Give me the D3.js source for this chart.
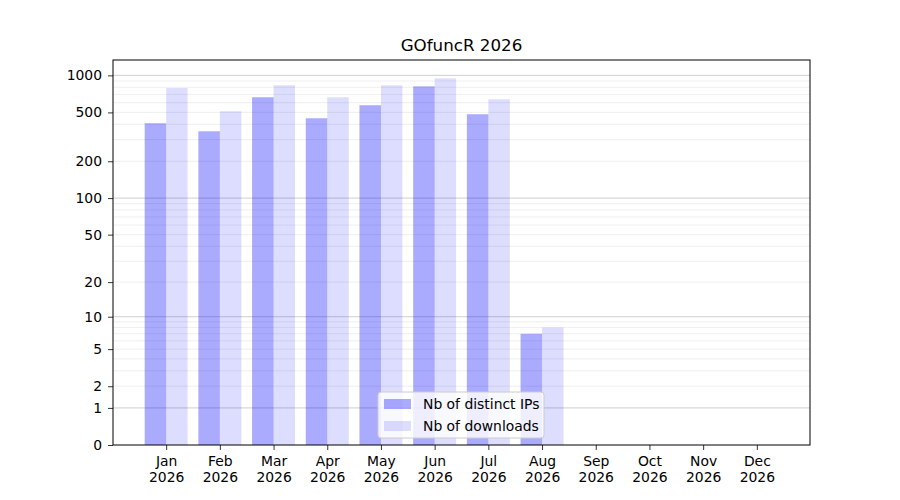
<!DOCTYPE html>
<meta charset="UTF-8">
<html>
	<head>
		<script src="https://d3js.org/d3.v7.min.js"></script>
		<style>
			body { margin: 0; background: white; }
			.Chart text
			{
				font-family: "DejaVu Sans", sans-serif;
				fill: black;
			}
		</style>
	</head>
	<body>
		<svg class="Chart"></svg>
		<script type="text/javascript">
			var Months = ["Jan", "Feb", "Mar", "Apr", "May", "Jun", "Jul", "Aug", "Sep", "Oct", "Nov", "Dec"];
			var Years = ["2026", "2026", "2026", "2026", "2026", "2026", "2026", "2026", "2026", "2026", "2026", "2026"];
			var DistinctIPs = [408, 351, 664, 448, 572, 814, 483, 7, 0, 0, 0, 0];
			var Downloads = [789, 511, 830, 664, 830, 946, 639, 8, 0, 0, 0, 0];
			var YTicks = [0, 1, 2, 5, 10, 20, 50, 100, 200, 500, 1000];
			var MajorGrid = [1, 10, 100, 1000];
			var MinorGrid = [2, 3, 4, 5, 6, 7, 8, 9, 20, 30, 40, 50, 60, 70, 80, 90, 200, 300, 400, 500, 600, 700, 800, 900];
			var SeriesNames = ["Nb of distinct IPs", "Nb of downloads"];

			var Width = 900;
			var Height = 500;
			var Plot = {"Left":113, "Right":810, "Top":60, "Bottom":445};
			var BarW = 0.4;

			var Svg = d3.select(".Chart").attr("width", Width).attr("height", Height);

			// x in month index units, 5% margin like matplotlib
			var Lo = -BarW, Hi = (Months.length - 1) + BarW;
			var Pad = (Hi - Lo) * 0.05;
			var XScale = d3.scaleLinear()
							.domain([Lo - Pad, Hi + Pad])
							.range([Plot.Left, Plot.Right]);

			var MaxV = d3.max(Downloads.concat(DistinctIPs));
			var YTop = Math.expm1(Math.log1p(MaxV) * 1.05);
			var YScale = d3.scaleSymlog().constant(1)
							.domain([0, YTop])
							.range([Plot.Bottom, Plot.Top]);

			// grid
			Svg.append("g").selectAll("line")
				.data(MinorGrid)
				.enter()
				.append("line")
				.attr("x1", Plot.Left).attr("x2", Plot.Right)
				.attr("y1", function(D){return YScale(D);})
				.attr("y2", function(D){return YScale(D);})
				.attr("stroke", "#ebebeb")
				.attr("stroke-width", 0.8);

			Svg.append("g").selectAll("line")
				.data(MajorGrid)
				.enter()
				.append("line")
				.attr("x1", Plot.Left).attr("x2", Plot.Right)
				.attr("y1", function(D){return YScale(D);})
				.attr("y2", function(D){return YScale(D);})
				.attr("stroke", "#c4c4c4")
				.attr("stroke-width", 0.8);

			// bars
			var Bars = Svg.append("g");
			Bars.selectAll("rect.ip")
				.data(DistinctIPs)
				.enter()
				.append("rect")
				.attr("class", "ip")
				.attr("x", function(D, I){return XScale(I - BarW);})
				.attr("width", XScale(BarW) - XScale(0))
				.attr("y", function(D){return YScale(D);})
				.attr("height", function(D){return Plot.Bottom - YScale(D);})
				.attr("fill", "blue")
				.attr("fill-opacity", 0.333);

			Bars.selectAll("rect.dl")
				.data(Downloads)
				.enter()
				.append("rect")
				.attr("class", "dl")
				.attr("x", function(D, I){return XScale(I);})
				.attr("width", XScale(BarW) - XScale(0))
				.attr("y", function(D){return YScale(D);})
				.attr("height", function(D){return Plot.Bottom - YScale(D);})
				.attr("fill", "blue")
				.attr("fill-opacity", 0.133);

			// axes
			var XAxis = Svg.append("g")
				.attr("transform", "translate(0," + Plot.Bottom + ")")
				.call(d3.axisBottom(XScale).tickValues(d3.range(Months.length)).tickSize(5).tickPadding(5).tickFormat(""));
			XAxis.select(".domain").remove();
			XAxis.selectAll(".tick line").attr("stroke", "black").attr("stroke-width", 0.8);
			XAxis.selectAll(".tick text").remove();
			XAxis.selectAll(".tick")
				.append("text")
				.attr("text-anchor", "middle")
				.style("font-size", "13.9px")
				.each(function(D)
				{
					d3.select(this).append("tspan").attr("x", 0).attr("y", 21).text(Months[D]);
					d3.select(this).append("tspan").attr("x", 0).attr("y", 37).text(Years[D]);
				});

			var YAxis = Svg.append("g")
				.attr("transform", "translate(" + Plot.Left + ",0)")
				.call(d3.axisLeft(YScale).tickValues(YTicks).tickSize(5).tickPadding(6).tickFormat(d3.format("d")));
			YAxis.select(".domain").remove();
			YAxis.selectAll(".tick line").attr("stroke", "black").attr("stroke-width", 0.8);
			YAxis.selectAll(".tick text").style("font-size", "13.9px").attr("font-family", "DejaVu Sans").attr("fill", "black");

			// frame
			Svg.append("rect")
				.attr("x", Plot.Left).attr("y", Plot.Top)
				.attr("width", Plot.Right - Plot.Left)
				.attr("height", Plot.Bottom - Plot.Top)
				.attr("fill", "none")
				.attr("stroke", "black")
				.attr("stroke-width", 1);

			// title
			Svg.append("text")
				.attr("x", (Plot.Left + Plot.Right) / 2)
				.attr("y", 51)
				.attr("text-anchor", "middle")
				.style("font-size", "16.7px")
				.text("GOfuncR 2026");

			// legend
			var Legend = Svg.append("g").attr("transform", "translate(378,392)");
			Legend.append("rect")
				.attr("width", 166).attr("height", 46)
				.attr("rx", 3)
				.attr("fill", "white").attr("fill-opacity", 0.8)
				.attr("stroke", "#cccccc").attr("stroke-width", 1);
			var Opac = [0.333, 0.133];
			SeriesNames.forEach(function(Name, I)
			{
				Legend.append("rect")
					.attr("x", 6).attr("y", 7 + I * 22)
					.attr("width", 27).attr("height", 10)
					.attr("fill", "blue").attr("fill-opacity", Opac[I]);
				Legend.append("text")
					.attr("x", 45).attr("y", 17 + I * 22)
					.style("font-size", "13.9px")
					.text(Name);
			});
		</script>
	</body>
</html>
